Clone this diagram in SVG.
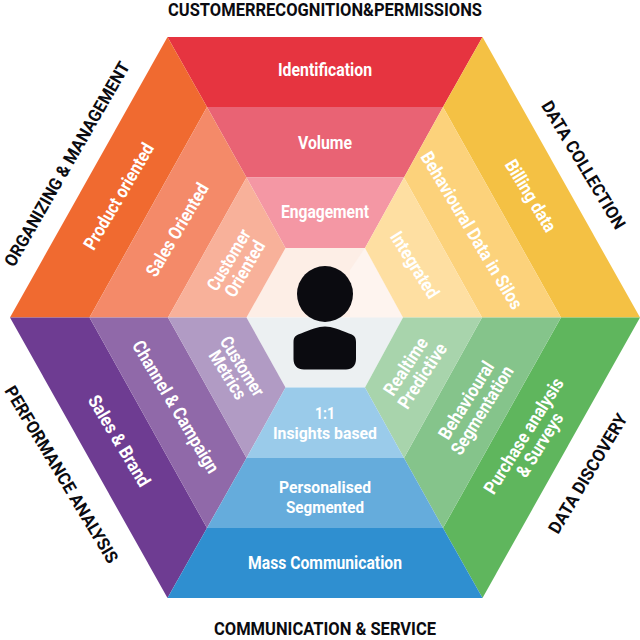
<svg xmlns="http://www.w3.org/2000/svg" width="640" height="640" viewBox="0 0 640 640">
<style>
text{font-family:"Roboto","Liberation Sans",sans-serif;font-weight:700;text-anchor:middle;dominant-baseline:central}
.l{fill:#fff;font-size:18.500px}
.s{fill:#fff;font-size:17px}
.h{fill:#0b0b10;font-size:17.500px}
</style>
<rect width="640" height="640" fill="#fff"/>
<g id="connectors"/>
<g id="node-center">
<polygon points="246.500,317.500 285.500,248 365,248 403,317.500" fill="#fdeee6"/>
<polygon points="365,248 403,317.500 350,317.500 350,270" fill="#fef4ef"/>
<polygon points="246.500,317.500 403,317.500 365,387.500 285.500,387.500" fill="#ecf0f2"/>
<circle cx="325" cy="294" r="28" fill="#0b0b10"/>
<path d="M293.500 342C293.500 336 297 335 301 333.500C311 329.500 318 326.500 325 326.500C332 326.500 339 329.500 349 333.500C353 335 356 336 356 342V359C356 365.500 352 369.500 346 369.500H304C297.500 369.500 293.500 365.500 293.500 359Z" fill="#0b0b10"/>
</g>
<g id="node-top">
<polygon points="167.500,37 482.500,37 443,107 207,107" fill="#e63440"/>
<polygon points="207,107 443,107 404,177.500 246.500,177.500" fill="#e96374"/>
<polygon points="246.500,177.500 404,177.500 365,248 285.500,248" fill="#f497a4"/>
<text class="l" x="325" y="69.500" textLength="94" lengthAdjust="spacingAndGlyphs">Identification</text>
<text class="l" x="325" y="142.500" textLength="54" lengthAdjust="spacingAndGlyphs">Volume</text>
<text class="l" x="325" y="211.500" textLength="88" lengthAdjust="spacingAndGlyphs">Engagement</text>
<text class="h" x="325" y="10" textLength="314" lengthAdjust="spacingAndGlyphs">CUSTOMERRECOGNITION&amp;PERMISSIONS</text>
</g>
<g id="node-upper-left">
<polygon points="10,317.500 167.500,37 207,107 89.500,317.500" fill="#f06a30"/>
<polygon points="89.500,317.500 207,107 246.500,177.500 168,317.500" fill="#f48a69"/>
<polygon points="168,317.500 246.500,177.500 285.500,248 246.500,317.500" fill="#f8b19a"/>
<text class="l" transform="translate(119,196.500) rotate(-59.500)" textLength="120" lengthAdjust="spacingAndGlyphs">Product oriented</text>
<text class="l" transform="translate(177.500,230) rotate(-59.500)" textLength="105" lengthAdjust="spacingAndGlyphs">Sales Oriented</text>
<text class="l" transform="translate(229,260) rotate(-59.500)" textLength="68" lengthAdjust="spacingAndGlyphs">Customer</text>
<text class="l" transform="translate(245,269) rotate(-59.500)" textLength="62" lengthAdjust="spacingAndGlyphs">Oriented</text>
<text class="h" transform="translate(67,164) rotate(-60)" textLength="233" lengthAdjust="spacingAndGlyphs">ORGANIZING &amp; MANAGEMENT</text>
</g>
<g id="node-upper-right">
<polygon points="640,317.500 482.500,37 443,107 561,317.500" fill="#f4c144"/>
<polygon points="561,317.500 443,107 404,177.500 482,317.500" fill="#fcd27b"/>
<polygon points="482,317.500 404,177.500 365,248 403,317.500" fill="#fedfa2"/>
<text class="l" transform="translate(530.500,196) rotate(58.500)" textLength="81" lengthAdjust="spacingAndGlyphs">Billing data</text>
<text class="l" transform="translate(471.500,230.500) rotate(59)" textLength="180" lengthAdjust="spacingAndGlyphs">Behavioural Data in Silos</text>
<text class="l" transform="translate(414.500,265) rotate(58)" textLength="75" lengthAdjust="spacingAndGlyphs">Integrated</text>
<text class="h" transform="translate(583.500,165) rotate(59)" textLength="146" lengthAdjust="spacingAndGlyphs">DATA COLLECTION</text>
</g>
<g id="node-lower-left">
<polygon points="10,317.500 89.500,317.500 207,528 167.500,598" fill="#6e3c92"/>
<polygon points="89.500,317.500 168,317.500 246.500,458 207,528" fill="#9069a9"/>
<polygon points="168,317.500 246.500,317.500 285.500,387.500 246.500,458" fill="#b19bc4"/>
<text class="l" transform="translate(119,441) rotate(59)" textLength="103" lengthAdjust="spacingAndGlyphs">Sales &amp; Brand</text>
<text class="l" transform="translate(175.500,407) rotate(59)" textLength="151" lengthAdjust="spacingAndGlyphs">Channel &amp; Campaign</text>
<text class="l" transform="translate(242,366.500) rotate(58)" textLength="67" lengthAdjust="spacingAndGlyphs">Customer</text>
<text class="l" transform="translate(227.500,375) rotate(58)" textLength="54" lengthAdjust="spacingAndGlyphs">Metrics</text>
<text class="h" transform="translate(61.500,474.500) rotate(59)" textLength="203" lengthAdjust="spacingAndGlyphs">PERFORMANCE ANALYSIS</text>
</g>
<g id="node-lower-right">
<polygon points="640,317.500 561,317.500 443,528 482.500,598" fill="#5fb65d"/>
<polygon points="561,317.500 482,317.500 404,458 443,528" fill="#85c48b"/>
<polygon points="482,317.500 403,317.500 365,387.500 404,458" fill="#a8d4ac"/>
<text class="l" transform="translate(524,436) rotate(-58)" textLength="133" lengthAdjust="spacingAndGlyphs">Purchase analysis</text>
<text class="l" transform="translate(540,445) rotate(-58)" textLength="72" lengthAdjust="spacingAndGlyphs">&amp; Surveys</text>
<text class="l" transform="translate(466.500,400.500) rotate(-58)" textLength="88" lengthAdjust="spacingAndGlyphs">Behavioural</text>
<text class="l" transform="translate(482.500,410.500) rotate(-58)" textLength="101" lengthAdjust="spacingAndGlyphs">Segmentation</text>
<text class="l" transform="translate(406,366.500) rotate(-57)" textLength="65" lengthAdjust="spacingAndGlyphs">Realtime</text>
<text class="l" transform="translate(422.500,376) rotate(-57)" textLength="74" lengthAdjust="spacingAndGlyphs">Predictive</text>
<text class="h" transform="translate(588,473.500) rotate(-59)" textLength="136" lengthAdjust="spacingAndGlyphs">DATA DISCOVERY</text>
</g>
<g id="node-bottom">
<polygon points="167.500,598 482.500,598 443,528 207,528" fill="#2f8fd0"/>
<polygon points="207,528 443,528 404,458 246.500,458" fill="#65acdc"/>
<polygon points="246.500,458 404,458 365,387.500 285.500,387.500" fill="#9acbea"/>
<text class="s" x="325" y="412.500" textLength="20" lengthAdjust="spacingAndGlyphs">1:1</text>
<text class="s" x="325" y="432.500" textLength="104" lengthAdjust="spacingAndGlyphs">Insights based</text>
<text class="s" x="325" y="486.500" textLength="92" lengthAdjust="spacingAndGlyphs">Personalised</text>
<text class="s" x="325" y="506.500" textLength="78" lengthAdjust="spacingAndGlyphs">Segmented</text>
<text class="l" x="325" y="562.500" textLength="154" lengthAdjust="spacingAndGlyphs">Mass Communication</text>
<text class="h" x="325" y="629" textLength="222" lengthAdjust="spacingAndGlyphs">COMMUNICATION &amp; SERVICE</text>
</g>
</svg>
